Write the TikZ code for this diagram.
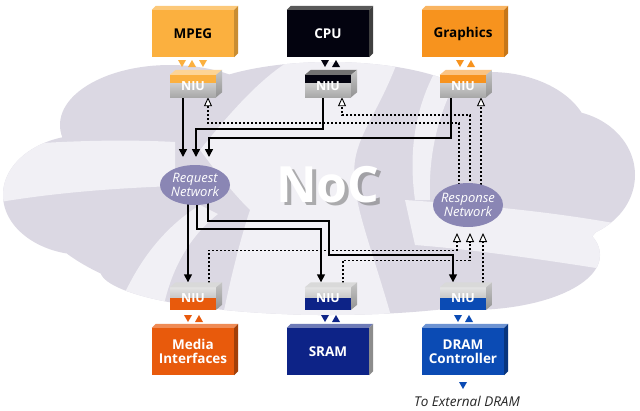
\documentclass[tikz,border=0pt]{standalone}
\usepackage{fontspec}
\setmainfont{Open Sans}
\usetikzlibrary{arrows.meta,shapes.geometric}
\pgfdeclarelayer{bg}
\pgfdeclarelayer{wires}
\pgfsetlayers{bg,wires,main}
\definecolor{cloudc}{HTML}{DBD8E3}
\definecolor{cloudlt}{HTML}{F1F0F5}
\definecolor{mpegc}{HTML}{FBB03F}
\definecolor{gfxc}{HTML}{F7931E}
\definecolor{mediac}{HTML}{E85A0C}
\definecolor{sramc}{HTML}{0D2387}
\definecolor{dramc}{HTML}{0B4BB4}
\definecolor{cpuc}{HTML}{03030F}
\definecolor{netc}{HTML}{8A86B4}
\tikzset{
  unitbox/.style={minimum width=82pt, minimum height=47pt, inner sep=0pt, align=center,
    font=\bfseries\fontsize{13.5}{14.5}\selectfont},
  niubase/.style={minimum width=46pt, minimum height=22pt, inner sep=0pt, text=white,
    font=\bfseries\fontsize{12.5}{13}\selectfont, top color=gray!22, bottom color=gray!68},
  niutop/.style={niubase, path picture={\fill[#1] (path picture bounding box.north west)
    rectangle ([yshift=-8pt]path picture bounding box.north east);}},
  niubot/.style={niubase, path picture={\fill[#1] (path picture bounding box.south west)
    rectangle ([yshift=12pt]path picture bounding box.south east);}},
  netw/.style={ellipse, fill=netc, text=white, inner xsep=-8pt, inner ysep=-6pt, align=center,
    font=\itshape\fontsize{13}{13.5}\selectfont},
  reqw/.style={line width=1.5pt, -{Triangle[length=8pt,width=8pt]}},
  rspw/.style={line width=1.1pt, dash pattern=on 2.4pt off 1.6pt,
    -{Triangle[length=9pt,width=8pt,fill=white,line width=0.9pt]}},
}
\newcommand\boxfaces[3]{%
  \fill[#2] (#1.north west) -- ++(4pt,4pt) -- ([shift={(4pt,4pt)}]#1.north east) -- (#1.north east) -- cycle;
  \fill[#3] (#1.north east) -- ++(4pt,4pt) -- ([shift={(4pt,4pt)}]#1.south east) -- (#1.south east) -- cycle;}
\newcommand\niufaces[2]{%
  \fill[#2] (#1.north west) -- ++(6pt,5pt) -- ([shift={(6pt,5pt)}]#1.north east) -- (#1.north east) -- cycle;
  \shade[top color=gray!45, bottom color=gray!85] (#1.north east) -- ++(6pt,5pt) -- ([shift={(6pt,5pt)}]#1.south east) -- (#1.south east) -- cycle;}
\newcommand\tdn[3]{\fill[#3] (#1-4,#2) -- (#1+4,#2) -- (#1,#2+7) -- cycle;}
\newcommand\tup[3]{\fill[#3] (#1-4,#2+7) -- (#1+4,#2+7) -- (#1,#2) -- cycle;}
\begin{document}
\begin{tikzpicture}[x=1pt,y=-1pt]
\useasboundingbox (0,0) rectangle (640,410);
\begin{pgfonlayer}{bg}
\fill[white] (0,0) rectangle (640,410);
\fill[cloudc] (320,195) ellipse [x radius=290, y radius=120]
  (85,195) ellipse [x radius=82, y radius=60]
  (170,125) ellipse [x radius=110, y radius=60]
  (330,110) ellipse [x radius=150, y radius=48]
  (490,140) ellipse [x radius=100, y radius=68]
  (560,175) ellipse [x radius=75, y radius=65]
  (470,255) ellipse [x radius=130, y radius=55]
  (330,270) ellipse [x radius=230, y radius=45];
\begin{scope}
\clip (320,195) ellipse [x radius=290, y radius=120]
  (85,195) ellipse [x radius=82, y radius=60]
  (170,125) ellipse [x radius=110, y radius=60]
  (330,110) ellipse [x radius=150, y radius=48]
  (490,140) ellipse [x radius=100, y radius=68]
  (560,175) ellipse [x radius=75, y radius=65]
  (470,255) ellipse [x radius=130, y radius=55]
  (330,270) ellipse [x radius=230, y radius=45];
\fill[cloudlt] (0,146) .. controls (60,141) and (120,139) .. (175,142) -- (175,186)
  .. controls (120,188) and (60,192) .. (0,202) -- cycle;
\fill[cloudlt] (200,150) .. controls (240,100) and (270,70) .. (300,55) -- (400,55)
  .. controls (380,110) and (360,130) .. (355,160) .. controls (350,200) and (370,240) .. (395,330)
  -- (220,330) .. controls (230,280) and (240,240) .. (250,210)
  .. controls (230,190) and (215,170) .. (200,150) -- cycle;
\fill[cloudlt] (110,330) .. controls (130,270) and (160,230) .. (200,205) -- (218,214)
  .. controls (185,240) and (165,280) .. (160,330) -- cycle;
\fill[cloudlt] (405,200) .. controls (480,205) and (560,212) .. (640,228) -- (640,275)
  .. controls (560,262) and (480,250) .. (415,245) -- cycle;
\fill[cloudlt] (445,55) .. controls (415,100) and (408,150) .. (415,200) -- (430,200)
  .. controls (428,150) and (440,100) .. (472,55) -- cycle;
\end{scope}
\end{pgfonlayer}

% NoC label with shadow
\node[font=\bfseries\fontsize{50}{50}\selectfont, text=black!55, opacity=0.55]
    (nocsh) at (332,188) {NoC};
\node[font=\bfseries\fontsize{50}{50}\selectfont, text=white] (noc) at (328,185) {NoC};

% processing units
\node[unitbox, fill=mpegc, text=black] (mpeg) at (193,33.5) {MPEG};
\boxfaces{mpeg}{mpegc!70!white}{mpegc!80!black}
\node[unitbox, fill=cpuc, text=white] (cpu) at (328,33.5) {CPU};
\boxfaces{cpu}{black!65}{black!75}
\node[unitbox, fill=gfxc, text=black] (gfx) at (463,33.5) {Graphics};
\boxfaces{gfx}{gfxc!70!white}{gfxc!80!black}
\node[unitbox, fill=mediac, text=white] (media) at (193,351.5) {Media\\Interfaces};
\boxfaces{media}{mediac!70!white}{mediac!70!black}
\node[unitbox, fill=sramc, text=white] (sram) at (328,351.5) {SRAM};
\boxfaces{sram}{sramc!60!white}{black!45}
\node[unitbox, fill=dramc, text=white] (dram) at (463,351.5) {DRAM\\Controller};
\boxfaces{dram}{dramc!60!white}{dramc!70!black}

% NIUs
\node[niutop=mpegc] (mniu) at (193,86) {NIU};
\niufaces{mniu}{mpegc!55!white}
\node[niutop=cpuc] (cniu) at (328,86) {NIU};
\niufaces{cniu}{black!55}
\node[niutop=gfxc] (gniu) at (463,86) {NIU};
\niufaces{gniu}{gfxc!55!white}
\node[niubot=mediac] (mbniu) at (193,298.5) {NIU};
\niufaces{mbniu}{gray!30}
\node[niubot=sramc] (sniu) at (328,298.5) {NIU};
\niufaces{sniu}{gray!30}
\node[niubot=dramc] (dniu) at (463,298.5) {NIU};
\niufaces{dniu}{gray!30}

% small interface triangles
\tdn{182}{60}{mpegc}\tup{192}{60}{mpegc}\tdn{203}{60}{mpegc}
\tdn{325}{60}{cpuc}\tup{336}{60}{cpuc}
\tdn{460}{60}{gfxc}\tup{471}{60}{gfxc}
\tdn{188}{315}{mediac}\tup{199}{315}{mediac}
\tdn{325}{315}{sramc}\tup{336}{315}{sramc}
\tdn{458}{315}{dramc}\tup{469}{315}{dramc}
\tdn{463}{382}{dramc}

% networks
\node[netw, minimum width=70pt, minimum height=40pt] (req) at (195,185) {Request\\Network};
\node[netw, minimum width=70pt, minimum height=44pt] (rsp) at (468,205) {Response\\Network};
\coordinate (rqin) at (195,157);
\coordinate (rspin) at (468,233);

\node[font=\itshape\fontsize{13.5}{14}\selectfont, text=black!85] (ext) at (467,401) {To External DRAM};

\begin{pgfonlayer}{wires}
% responses (dashed)
\draw[rspw] ([xshift=-9pt]rsp.center) -- ++(0,-82) -| ([xshift=15pt]mniu.south);
\draw[rspw] ([xshift=2pt]rsp.center) -- ++(0,-90) -| ([xshift=14pt]cniu.south);
\draw[rspw] ([xshift=18pt]gniu.south |- rsp.center) -- ([xshift=18pt]gniu.south);
\draw[rspw] ([xshift=16pt]mbniu.north) -- ++(0,-37) -| ([xshift=-11pt]rspin);
\draw[rspw] ([xshift=15pt]sniu.north) -- ++(0,-27) -| ([xshift=2pt]rspin);
\draw[rspw] ([xshift=20pt]dniu.north) -- ([xshift=20pt]dniu.north |- rspin);
% requests (solid)
\draw[reqw] ([xshift=-10pt]mniu.south) -- ([xshift=-12pt]rqin);
\draw[reqw] ([xshift=-5pt]cniu.south) -- ++(0,32) -| ([xshift=1pt]rqin);
\draw[reqw] ([xshift=-12pt]gniu.south) -- ++(0,41) -| ([xshift=14pt]rqin);
\draw[reqw] ([xshift=-5pt]mbniu.north |- req.center) -- ([shift={(-5pt,5pt)}]mbniu.north);
\draw[reqw] ([xshift=2pt]req.center) -- ++(0,44) -| ([shift={(-7pt,5pt)}]sniu.north);
\draw[reqw] ([xshift=13pt]req.center) -- ++(0,36) -- ++(121,0) -- ++(0,34) -| ([shift={(-10pt,5pt)}]dniu.north);
\end{pgfonlayer}
\end{tikzpicture}
\end{document}
